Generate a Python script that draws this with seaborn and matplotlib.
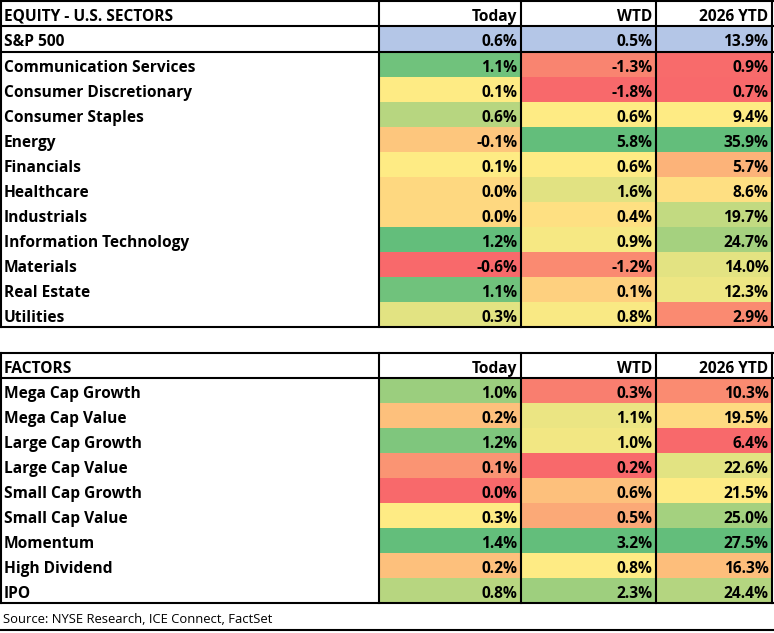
import numpy as np
import pandas as pd
import matplotlib
matplotlib.use("Agg")
import matplotlib.pyplot as plt
import seaborn as sns
from matplotlib.colors import LinearSegmentedColormap, ListedColormap

# ---------------- data ----------------
sector_title = "EQUITY - U.S. SECTORS"
factor_title = "FACTORS"
col_labels = ["Today", "WTD", "2026 YTD"]

sp500_label = "S&P 500"
sp500_vals = [0.6, 0.5, 13.9]

sectors = ["Communication Services", "Consumer Discretionary", "Consumer Staples",
           "Energy", "Financials", "Healthcare", "Industrials",
           "Information Technology", "Materials", "Real Estate", "Utilities"]
sector_today = [1.1, 0.1, 0.6, -0.1, 0.1, 0.0, 0.0, 1.2, -0.6, 1.1, 0.3]
sector_wtd = [-1.3, -1.8, 0.6, 5.8, 0.6, 1.6, 0.4, 0.9, -1.2, 0.1, 0.8]
sector_ytd = [0.9, 0.7, 9.4, 35.9, 5.7, 8.6, 19.7, 24.7, 14.0, 12.3, 2.9]

factors = ["Mega Cap Growth", "Mega Cap Value", "Large Cap Growth", "Large Cap Value",
           "Small Cap Growth", "Small Cap Value", "Momentum", "High Dividend", "IPO"]
factor_today = [1.0, 0.2, 1.2, 0.1, 0.0, 0.3, 1.4, 0.2, 0.8]
factor_wtd = [0.3, 1.1, 1.0, 0.2, 0.6, 0.5, 3.2, 0.8, 2.3]
factor_ytd = [10.3, 19.5, 6.4, 22.6, 21.5, 25.0, 27.5, 16.3, 24.4]

source_text = "Source: NYSE Research, ICE Connect, FactSet"

# ---------------- style ----------------
W, H = 774, 633
DPI = 100
FONT = "Open Sans"
FS = 11.2
LW = 1.5
BASE = 19.6  # baseline offset (px) from row top
cmap = LinearSegmentedColormap.from_list("ryg", ["#F8696B", "#FFEB84", "#63BE7B"])
sp_cmap = ListedColormap(["#B4C6E7"])

# column edges (pixels)
x_edges = [1, 379, 521, 656, 772]


def scale3(vals):
    """Excel-like 3-color scale: min -> 0, median -> 0.5, max -> 1."""
    v = np.asarray(vals, dtype=float)
    lo, mid, hi = v.min(), np.percentile(v, 50), v.max()
    out = np.where(v <= mid,
                   0.5 * (v - lo) / (mid - lo if mid > lo else 1),
                   0.5 + 0.5 * (v - mid) / (hi - mid if hi > mid else 1))
    return out


def fmt(v):
    return f"{v:.1f}%"


fig = plt.figure(figsize=(W / DPI, H / DPI), dpi=DPI)
bg = fig.add_axes([0, 0, 1, 1])
bg.set_xlim(0, W)
bg.set_ylim(H, 0)
bg.axis("off")

TXT = dict(fontsize=FS, fontweight="bold", family=FONT, color="black")


def px_axes(x0, y0, x1, y1):
    return fig.add_axes([x0 / W, 1 - y1 / H, (x1 - x0) / W, (y1 - y0) / H])


def place_annots(ax, wpx, hpx):
    for t in ax.texts:
        xx, yy = t.get_position()
        r = int(yy)
        t.set_ha("right")
        t.set_va("baseline")
        t.set_x(1 - 3.5 / wpx)
        t.set_y(r + BASE / hpx)


def draw_table(top, header_h, title, sp_row, labels, cols):
    y = top
    bg.text(4, y + BASE, title, va="baseline", ha="left", **TXT)
    for i, c in enumerate(col_labels):
        bg.text(x_edges[i + 2] - 3.5, y + BASE, c, va="baseline", ha="right", **TXT)
    y += header_h
    lines_y = [top, y]
    if sp_row is not None:
        sp_h = 26
        bg.text(4, y + BASE, sp500_label, va="baseline", ha="left", **TXT)
        for i in range(3):
            ax = px_axes(x_edges[i + 1], y, x_edges[i + 2], y + sp_h)
            sns.heatmap([[0.0]], ax=ax, cmap=sp_cmap, cbar=False,
                        annot=[[fmt(sp_row[i])]], fmt="", annot_kws=TXT)
            ax.set_xticks([]); ax.set_yticks([])
            place_annots(ax, x_edges[i + 2] - x_edges[i + 1], sp_h)
        y += sp_h
        lines_y.append(y)
    row_h = 25
    for j, lab in enumerate(labels):
        bg.text(4, y + row_h * j + BASE, lab, va="baseline", ha="left", **TXT)
    bottom = y + row_h * len(labels)
    for i in range(3):
        ax = px_axes(x_edges[i + 1], y, x_edges[i + 2], bottom)
        colors = scale3(cols[i])[:, None]
        sns.heatmap(colors, ax=ax, cmap=cmap, vmin=0, vmax=1, cbar=False,
                    annot=np.array([[fmt(v)] for v in cols[i]]), fmt="",
                    annot_kws=TXT)
        ax.set_xticks([]); ax.set_yticks([])
        place_annots(ax, x_edges[i + 2] - x_edges[i + 1], row_h)
    lines_y.append(bottom)
    for ly in lines_y:
        bg.plot([0, x_edges[-1] + 1], [ly, ly], color="black", lw=LW,
                solid_capstyle="projecting", zorder=10)
    for lx in x_edges:
        bg.plot([lx, lx], [top, bottom], color="black", lw=LW,
                solid_capstyle="projecting", zorder=10)
    return bottom


b1 = draw_table(1, 25, sector_title, sp500_vals, sectors,
                [sector_today, sector_wtd, sector_ytd])
b2 = draw_table(353, 25, factor_title, None, factors,
                [factor_today, factor_wtd, factor_ytd])

bg.text(3, 623, source_text, fontsize=9.4, family=FONT, va="baseline", ha="left")
bg.plot([0, W], [630, 630], color="black", lw=LW, zorder=10)

bg.set_zorder(5)
bg.patch.set_alpha(0)

fig.savefig("out.png", dpi=DPI)
